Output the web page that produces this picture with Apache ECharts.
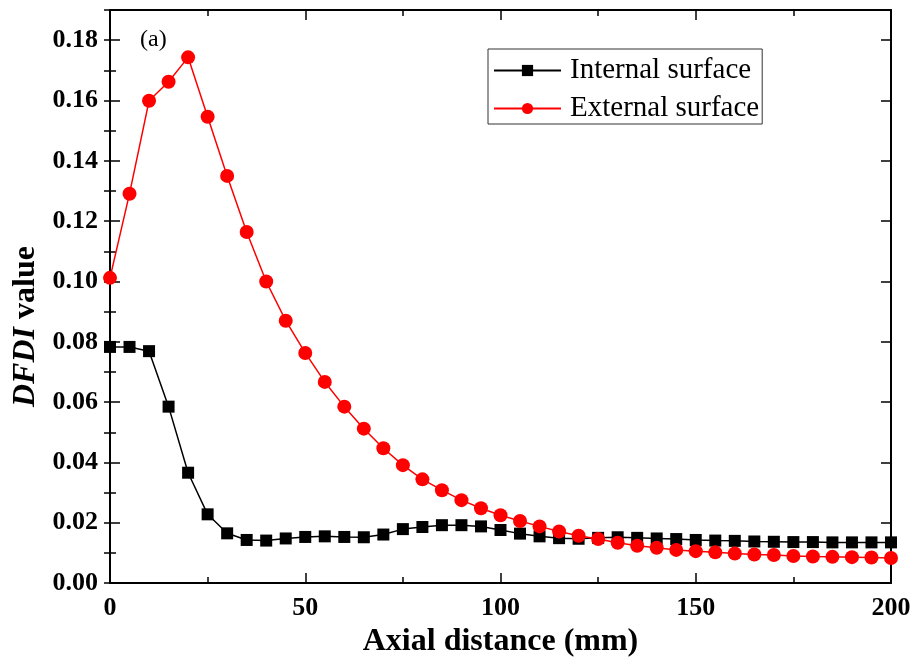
<!DOCTYPE html>
<html>
<head>
<meta charset="utf-8">
<script src="https://cdn.jsdelivr.net/npm/echarts@6/dist/echarts.min.js"></script>
<style>html,body{margin:0;padding:0;background:#fff}#c{width:914px;height:663px}</style>
</head>
<body>
<div id="c"></div>
<script>
const axial = [0,5,10,15,20,25,30,35,40,45,50,55,60,65,70,75,80,85,90,95,100,105,110,115,120,125,130,135,140,145,150,155,160,165,170,175,180,185,190,195,200];
const internalSurface = [0.0783,0.0783,0.0769,0.0585,0.0366,0.0228,0.0165,0.0143,0.0141,0.0148,0.0153,0.0155,0.0153,0.0152,0.0161,0.0179,0.0186,0.0192,0.0192,0.0188,0.0176,0.0164,0.0155,0.0149,0.0147,0.0150,0.0152,0.0150,0.0148,0.0146,0.0143,0.0141,0.0140,0.0138,0.0137,0.0136,0.0136,0.0135,0.0135,0.0135,0.0135];
const externalSurface = [0.1012,0.1291,0.1599,0.1662,0.1743,0.1546,0.1350,0.1164,0.1000,0.0870,0.0763,0.0667,0.0585,0.0512,0.0447,0.0391,0.0344,0.0308,0.0275,0.0248,0.0225,0.0206,0.0188,0.0171,0.0157,0.0146,0.0134,0.0124,0.0117,0.0110,0.0106,0.0102,0.0098,0.0095,0.0093,0.0090,0.0088,0.0087,0.0086,0.0085,0.0083];
const seriesNames = ['Internal surface','External surface'];
const xTickLabels = [0,50,100,150,200];
const yTickLabels = ['0.00','0.02','0.04','0.06','0.08','0.10','0.12','0.14','0.16','0.18'];

const FONT = '"Liberation Serif","Times New Roman",serif';
const lineStyleAxis = {color:'#000', width:2};
const yMin = 0, yMax = 0.19;

function yAxisDef(opts){
  return Object.assign({
    type:'value', min:yMin, max:yMax, position:'left',
    axisLine:{show:true, onZero:false, lineStyle:lineStyleAxis},
    splitLine:{show:false},
    axisLabel:{show:false},
    axisTick:{show:true, inside:true, length:10, lineStyle:{color:'#000', width:1.5}}
  }, opts);
}

const option = {
  animation:false,
  backgroundColor:'#fff',
  grid:{left:110, top:10, right:23, bottom:79, containLabel:false},
  legend:{
    orient:'vertical', left:488, top:49,
    borderColor:'#333', borderWidth:1, borderRadius:0,
    padding:[7,3,1,5], itemGap:9,
    itemWidth:67, itemHeight:14,
    textStyle:{fontFamily:FONT, fontSize:29, color:'#000', padding:[0,0,0,4]},
    data:seriesNames
  },
  graphic:[{type:'text', left:140, top:28, style:{text:'(a)', font:'24px '+FONT, fill:'#000'}}],
  xAxis:[
    {type:'value', min:0, max:200, interval:50, position:'bottom',
     name:'Axial distance (mm)', nameLocation:'middle', nameGap:42,
     nameTextStyle:{fontFamily:FONT, fontSize:32, fontWeight:'bold', color:'#000'},
     axisLine:{show:true, onZero:false, lineStyle:lineStyleAxis},
     splitLine:{show:false},
     axisTick:{inside:true, length:10, lineStyle:{color:'#000', width:1.5}},
     minorTick:{show:true, splitNumber:2, length:6, lineStyle:{color:'#000', width:1.5}},
     axisLabel:{margin:12, fontFamily:FONT, fontSize:26, fontWeight:'bold', color:'#000',
       formatter:v => xTickLabels.includes(v) ? String(v) : ''}},
    {type:'value', min:0, max:200, interval:50, position:'top',
     axisLine:{show:true, onZero:false, lineStyle:lineStyleAxis},
     splitLine:{show:false}, axisLabel:{show:false},
     axisTick:{inside:true, length:10, lineStyle:{color:'#000', width:1.5}},
     minorTick:{show:true, splitNumber:2, length:6, lineStyle:{color:'#000', width:1.5}}}
  ],
  yAxis:[
    yAxisDef({interval:0.02,
      name:'{i|DFDI} value', nameLocation:'middle', nameGap:64, nameRotate:90,
      nameTextStyle:{fontFamily:FONT, fontSize:32, fontWeight:'bold', color:'#000', padding:[0,60,0,0],
        rich:{i:{fontFamily:FONT, fontSize:32, fontWeight:'bold', fontStyle:'italic', color:'#000'}}},
      axisLabel:{show:true, margin:12, fontFamily:FONT, fontSize:26, fontWeight:'bold', color:'#000',
        showMaxLabel:false,
        formatter:v => { const s = v.toFixed(2); return yTickLabels.includes(s) ? s : ''; }}}),
    yAxisDef({interval:0.01, axisLine:{show:false}, axisTick:{show:true, inside:true, length:6, lineStyle:{color:'#000', width:1.5}}}),
    yAxisDef({interval:0.02, position:'right'}),
    yAxisDef({interval:0.01, position:'right', axisLine:{show:false}, axisTick:{show:true, inside:true, length:6, lineStyle:{color:'#000', width:1.5}}})
  ],
  series:[
    {name:seriesNames[0], type:'line', xAxisIndex:0, yAxisIndex:0,
     data:axial.map((x,i)=>[x, internalSurface[i]]),
     symbol:'rect', symbolSize:12, showAllSymbol:true,
     itemStyle:{color:'#000'}, lineStyle:{color:'#000', width:1.5}, z:2},
    {name:seriesNames[1], type:'line', xAxisIndex:0, yAxisIndex:0,
     data:axial.map((x,i)=>[x, externalSurface[i]]),
     symbol:'circle', symbolSize:14, showAllSymbol:true,
     itemStyle:{color:'#ff0000'}, lineStyle:{color:'#ff0000', width:1.5}, z:3}
  ]
};
const chart = echarts.init(document.getElementById('c'), null, {renderer:'canvas'});
chart.setOption(option);
</script>
</body>
</html>
